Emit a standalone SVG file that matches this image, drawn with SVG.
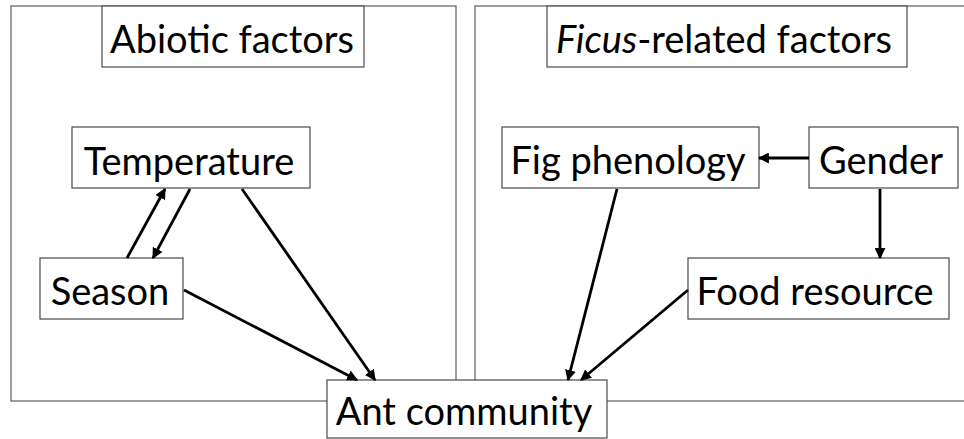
<svg xmlns="http://www.w3.org/2000/svg" width="964" height="439" viewBox="0 0 964 439">
<style>
.panel{fill:none;stroke:#6b6b6b;stroke-width:1.3}
.box{fill:#fff;stroke:#4a4a4a;stroke-width:1.2}
.t{font-family:Lato,"Open Sans",sans-serif;font-size:38px;fill:#000;text-anchor:middle}
.c{fill:none;stroke:#000;stroke-width:2.8;marker-end:url(#ah)}
</style>
<defs>
<marker id="ah" markerWidth="11" markerHeight="11" refX="9" refY="5" orient="auto" markerUnits="userSpaceOnUse" viewBox="0 0 10 10">
<path d="M0,0 L10,5 L0,10 Z" fill="#000"/>
</marker>
</defs>
<g id="panel-abiotic"><rect class="panel" x="11" y="6" width="445" height="395"/></g>
<g id="panel-ficus"><rect class="panel" x="475" y="6" width="495" height="395"/></g>
<g id="abiotic"><rect class="box" x="102" y="6" width="262" height="61"/><text class="t" x="232" y="53">Abiotic factors</text></g>
<g id="ficus"><rect class="box" x="547" y="6" width="360" height="61"/><text class="t" x="724" y="53"><tspan font-style="italic">Ficus</tspan>-related factors</text></g>
<g id="temperature"><rect class="box" x="72" y="127" width="238" height="61"/><text class="t" x="189" y="175">Temperature</text></g>
<g id="season"><rect class="box" x="40" y="258" width="143" height="61"/><text class="t" x="110" y="305">Season</text></g>
<g id="figpheno"><rect class="box" x="502" y="127" width="257" height="61"/><text class="t" x="628" y="174">Fig phenology</text></g>
<g id="gender"><rect class="box" x="809" y="127" width="149" height="61"/><text class="t" x="881" y="174">Gender</text></g>
<g id="food"><rect class="box" x="688" y="258" width="261" height="61"/><text class="t" x="815" y="305">Food resource</text></g>
<g id="ant"><rect class="box" x="327" y="380" width="280" height="58"/><text class="t" x="464" y="425">Ant community</text></g>
<g id="connectors">
<line class="c" x1="127" y1="258" x2="165" y2="189"/>
<line class="c" x1="190" y1="189" x2="153" y2="258"/>
<line class="c" x1="242" y1="189" x2="375" y2="380"/>
<line class="c" x1="184" y1="290" x2="357" y2="380"/>
<line class="c" x1="617" y1="189" x2="568" y2="380"/>
<line class="c" x1="688" y1="290" x2="581" y2="380"/>
<line class="c" x1="809" y1="158" x2="759" y2="158"/>
<line class="c" x1="880" y1="189" x2="880" y2="258"/>
</g>
</svg>
